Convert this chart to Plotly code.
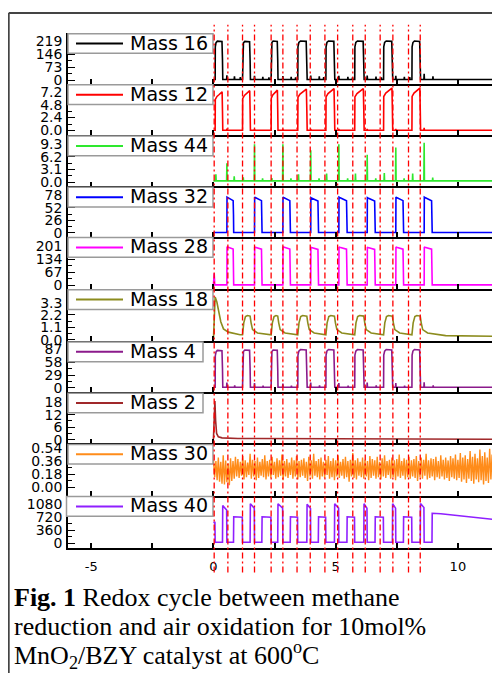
import plotly.graph_objects as go

# the page body adds an 8px margin, so the figure is drawn 8px in from the corner
OFF = 8
FIG_W, FIG_H = 500 - OFF, 674 - OFF


def px(x):
    return (x - OFF) / FIG_W


def py(y):
    return 1 - (y - OFF) / FIG_H


# ------------------------------------------------------------------ data
# switching times (h)
CH4_ON = [0.07, 1.19, 2.36, 3.45, 4.60, 5.78, 6.96, 8.12]
CH4_OFF = [0.37, 1.50, 2.63, 3.82, 4.95, 6.15, 7.32, 8.46]
AIR_ON = [0.55, 1.68, 2.84, 3.98, 5.13, 6.29, 7.46, 8.62]
AIR_OFF = [0.82, 1.98, 3.14, 4.29, 5.46, 6.61, 7.77, 8.94]
DASH_T = [0.03, 0.59, 1.19, 1.68, 2.36, 2.84, 3.42, 3.96,
          4.56, 5.08, 5.70, 6.21, 6.82, 7.34, 7.98, 8.46]
T_END = 11.7

LABELS = ["Mass 16", "Mass 12", "Mass 44", "Mass 32", "Mass 28",
          "Mass 18", "Mass 4", "Mass 2", "Mass 30", "Mass 40"]

# y tick labels of every panel
Y_TICKTEXT = [
    ["0", "73", "146", "219"],
    ["0.0", "2.4", "4.8", "7.2"],
    ["0.0", "3.1", "6.2", "9.3"],
    ["0", "26", "52", "78"],
    ["0", "67", "134", "201"],
    ["0.0", "1.1", "2.2", "3.3"],
    ["0", "29", "58", "87"],
    ["0", "6", "12", "18"],
    ["0.00", "0.18", "0.36", "0.54"],
    ["0", "360", "720", "1080"],
]
X_TICKVALS = [-5, -2.5, 0, 2.5, 5, 7.5, 10]
X_TICKTEXT = ["-5", "", "0", "", "5", "", "10"]

# Mass 16 (CH4)
M16_BASE = 4
M16_PEAK = [221, 220, 222, 222, 222, 222, 222, 222]
M16_SPIKE_AIRON = [28, 25, 24, 26, 25, 26, 25, 37]
M16_SPIKE_AIROFF = [22, 20, 20, 22, 20, 21, 20, 22]
M16_SPIKE_PRE = [18, 17, 16, 18, 17, 16, 18]
# Mass 12
M12_BASE = 0.05
M12_PEAK = [7.2, 7.4, 7.5, 7.7, 7.8, 7.8, 7.9, 7.9]
M12_SPIKE = [0.35, 0.3, 0.3, 0.3, 0.3, 0.3, 0.3, 0.5]
# Mass 44 (CO2)
M44_BASE = 0.3
M44_SPIKE_ON = [1.9, 1.2, 1.0, 1.9, 2.1, 2.1, 2.2, 2.1]
M44_SPIKE_AIRON = [4.6, 9.3, 9.3, 7.8, 9.3, 6.7, 8.5, 9.7]
M44_SPIKE_AIROFF = [1.4, 0.9, 0.9, 0.9, 0.9, 0.9, 0.9, 1.1]
# Mass 32 (O2)
M32_BASE = 0.8
M32_PEAK = [74, 74, 74, 73, 74, 73, 74, 74]
# Mass 28
M28_BASE = 3
M28_PEAK = [198, 197, 198, 196, 197, 196, 197, 197]
M28_START_SPIKE = 62
# Mass 18 (H2O)
M18_START_T = [0.0, 0.03, 0.07, 0.14, 0.20, 0.30, 0.41, 0.61, 1.09]
M18_START_V = [0.05, 2.5, 3.8, 3.35, 2.8, 1.6, 0.96, 0.67, 0.44]
M18_RISE_DT = [0.0, 0.05, 0.12, 0.2]
M18_RISE_V = [0.44, 1.5, 2.05, 2.15]
M18_FALL_DT = [0.0, 0.04, 0.1, 0.3, 0.6]
M18_FALL_V = [2.1, 1.5, 0.9, 0.6, 0.5]
M18_TAIL_T = [9.5, 11.7]
M18_TAIL_V = [0.36, 0.3]
# Mass 4
M4_BASE = 1.5
M4_PEAK = [85, 86, 86, 87, 87, 87, 87, 87]
M4_SPIKE_AIRON = [12, 11, 10, 12, 11, 12, 11, 13]
M4_SPIKE_AIROFF = [6, 5, 5, 6, 5, 6, 5, 6]
# Mass 2 (H2)
M2_T = [0.0, 0.02, 0.06, 0.09, 0.13, 0.2, 0.35, 1.0, 4.0, 8.0, 11.7]
M2_V = [0.3, 8.0, 18.5, 9.0, 3.0, 1.4, 0.9, 0.6, 0.45, 0.3, 0.25]
# Mass 30 (noisy) : alternating upper / lower excursions
M30_UPPER = [
    0.38, 0.36, 0.41, 0.35, 0.44, 0.37, 0.33, 0.40, 0.36, 0.42,
    0.39, 0.35, 0.43, 0.37, 0.34, 0.46, 0.38, 0.36, 0.41, 0.35,
    0.39, 0.44, 0.36, 0.38, 0.42, 0.35, 0.40, 0.37, 0.45, 0.36,
    0.39, 0.34, 0.41, 0.37, 0.43, 0.36, 0.38, 0.40, 0.35, 0.42,
    0.37, 0.46, 0.36, 0.39, 0.41, 0.35, 0.38, 0.43, 0.36, 0.40,
    0.37, 0.44, 0.35, 0.39, 0.42, 0.36, 0.38, 0.47, 0.37, 0.40,
    0.35, 0.41, 0.38, 0.36, 0.43, 0.39, 0.37, 0.42, 0.35, 0.40,
    0.44, 0.36, 0.38, 0.41, 0.37, 0.39, 0.45, 0.36, 0.40, 0.38,
    0.42, 0.37, 0.39, 0.43, 0.36, 0.41, 0.38, 0.46, 0.37, 0.40,
    0.39, 0.42, 0.36, 0.44, 0.38, 0.41, 0.37, 0.43, 0.40, 0.45,
    0.38, 0.47, 0.41, 0.44, 0.39, 0.50, 0.42, 0.46, 0.40, 0.52,
    0.43, 0.48, 0.41, 0.53, 0.45, 0.49,
]
M30_LOWER = [
    0.14, 0.10, 0.08, 0.05, 0.04, 0.07, 0.03, 0.09, 0.12, 0.15,
    0.13, 0.16, 0.11, 0.14, 0.17, 0.12, 0.15, 0.10, 0.13, 0.16,
    0.14, 0.11, 0.15, 0.13, 0.17, 0.12, 0.14, 0.16, 0.10, 0.15,
    0.13, 0.17, 0.12, 0.15, 0.11, 0.14, 0.16, 0.13, 0.09, 0.15,
    0.12, 0.16, 0.14, 0.11, 0.15, 0.13, 0.17, 0.12, 0.14, 0.10,
    0.15, 0.13, 0.16, 0.12, 0.14, 0.08, 0.15, 0.13, 0.11, 0.16,
    0.14, 0.12, 0.15, 0.10, 0.13, 0.16, 0.12, 0.14, 0.11, 0.15,
    0.13, 0.17, 0.12, 0.14, 0.10, 0.15, 0.13, 0.16, 0.11, 0.14,
    0.12, 0.15, 0.13, 0.09, 0.14, 0.12, 0.16, 0.11, 0.13, 0.15,
    0.10, 0.14, 0.12, 0.15, 0.11, 0.13, 0.09, 0.14, 0.12, 0.10,
    0.13, 0.08, 0.11, 0.06, 0.12, 0.09, 0.05, 0.11, 0.07, 0.10,
    0.04, 0.09, 0.06, 0.11, 0.05, 0.08,
]
M30_STEP = 0.05
# Mass 40 (Ar)
M40_START = [560, 585]
M40_LOW = 25
M40_PEAK = [1030, 1080, 1080, 1070, 1080, 1080, 1080, 1090]
M40_PEAK_END = [910, 960, 960, 950, 960, 960, 960, 980]
M40_MID = [725, 725, 725, 725, 725, 725, 725]
M40_MID_END = [712, 712, 712, 712, 712, 712, 712]
M40_TAIL_T = [9.3, 11.7]
M40_TAIL_V = [805, 635]
M40_TAIL_START = 820

# pulse shape profiles (fraction of pulse width, fraction of height)
CH4_SHAPE_F = [0.0, 0.02, 0.12, 0.3, 0.93, 1.0, 1.04]
CH4_SHAPE_L = [0.0, 0.85, 0.96, 1.0, 0.99, 0.5, 0.0]
M12_SHAPE_F = [0.0, 0.02, 0.25, 0.55, 0.85, 0.95, 1.0, 1.04]
M12_SHAPE_L = [0.0, 0.8, 0.88, 0.93, 0.98, 1.0, 0.5, 0.0]
AIR_SHAPE_F = [0.0, 0.02, 0.1, 0.95, 1.0, 1.03]
AIR_SHAPE_L = [0.0, 1.0, 0.99, 0.9, 0.5, 0.0]
AIR28_SHAPE_L = [0.0, 1.0, 0.99, 0.94, 0.5, 0.0]

COLORS = ["#000000", "#ff0000", "#2ee82e", "#0000ff", "#ff00ff",
          "#8c8c1e", "#8b1a8b", "#a0282a", "#ff8c1a", "#8f1fff"]

# ---------------------------------------------------------------- layout cfg
TOPS = [30, 82, 134, 186, 237, 290, 343, 395, 447, 500]
BOTS = [82, 134, 186, 237, 290, 343, 395, 447, 500, 553]
Y_RANGES = [[-20.6, 269], [-0.86, 8.67], [-1.04, 11.55], [-7.5, 96.3],
            [-16.6, 249.7], [-0.114, 4.53], [-9.6, 106.4], [-1.74, 22.7],
            [-0.112, 0.603], [-127, 1304]]
BOX_R = [213, 213, 213, 213, 213, 213, 203, 203, 213, 213]


# ---------------------------------------------------------------- builders
def pulse(on, off, base, peak, frac, lvl):
    w = off - on
    return [(on + f * w, base + l * (peak - base)) for f, l in zip(frac, lvl)]


def spike(t, base, h, hw=0.012):
    return [(t - hw, base), (t, h), (t + hw, base)]


def assemble(pts):
    pts = sorted(pts, key=lambda p: p[0])
    return [p[0] for p in pts], [p[1] for p in pts]


series = []

# Mass 16
pts = [(0, M16_BASE), (T_END, M16_BASE)]
for i in range(8):
    pts += pulse(CH4_ON[i], CH4_OFF[i], M16_BASE, M16_PEAK[i], CH4_SHAPE_F, CH4_SHAPE_L)
    pts += spike(AIR_ON[i], M16_BASE, M16_SPIKE_AIRON[i])
    pts += spike(AIR_OFF[i] + 0.04, M16_BASE, M16_SPIKE_AIROFF[i])
    if i < 7:
        pts += spike(CH4_ON[i + 1] - 0.09, M16_BASE, M16_SPIKE_PRE[i])
series.append(assemble(pts))

# Mass 12
pts = [(0, M12_BASE), (T_END, M12_BASE)]
for i in range(8):
    pts += pulse(CH4_ON[i], CH4_OFF[i], M12_BASE, M12_PEAK[i], M12_SHAPE_F, M12_SHAPE_L)
    pts += spike(AIR_ON[i], M12_BASE, M12_SPIKE[i])
series.append(assemble(pts))

# Mass 44
pts = [(0, M44_BASE), (T_END, M44_BASE)]
for i in range(8):
    pts += spike(CH4_ON[i] + 0.03, M44_BASE, M44_SPIKE_ON[i])
    pts += spike(AIR_ON[i], M44_BASE, M44_SPIKE_AIRON[i])
    pts += spike(AIR_OFF[i] + 0.03, M44_BASE, M44_SPIKE_AIROFF[i])
series.append(assemble(pts))

# Mass 32
pts = [(0, M32_BASE), (T_END, M32_BASE)]
for i in range(8):
    pts += pulse(AIR_ON[i], AIR_OFF[i], M32_BASE, M32_PEAK[i], AIR_SHAPE_F, AIR_SHAPE_L)
series.append(assemble(pts))

# Mass 28
pts = [(0, M28_BASE), (T_END, M28_BASE)]
pts += spike(0.03, M28_BASE, M28_START_SPIKE, hw=0.025)
for i in range(8):
    pts += pulse(AIR_ON[i], AIR_OFF[i], M28_BASE, M28_PEAK[i], AIR_SHAPE_F, AIR28_SHAPE_L)
series.append(assemble(pts))

# Mass 18
pts = list(zip(M18_START_T, M18_START_V))
for i in range(1, 8):
    pts += [(CH4_ON[i] + d, v) for d, v in zip(M18_RISE_DT, M18_RISE_V)]
    pts += [(CH4_OFF[i] + d, v) for d, v in zip(M18_FALL_DT, M18_FALL_V)]
pts += list(zip(M18_TAIL_T, M18_TAIL_V))
series.append(assemble(pts))

# Mass 4
pts = [(0, M4_BASE), (T_END, M4_BASE)]
for i in range(8):
    pts += pulse(CH4_ON[i], CH4_OFF[i], M4_BASE, M4_PEAK[i], CH4_SHAPE_F, CH4_SHAPE_L)
    pts += spike(AIR_ON[i], M4_BASE, M4_SPIKE_AIRON[i])
    pts += spike(AIR_OFF[i] + 0.05, M4_BASE, M4_SPIKE_AIROFF[i])
series.append(assemble(pts))

# Mass 2
series.append((M2_T, M2_V))

# Mass 30
x30, y30 = [], []
for k in range(len(M30_UPPER)):
    x30 += [2 * k * M30_STEP, (2 * k + 1) * M30_STEP]
    y30 += [M30_UPPER[k], M30_LOWER[k]]
series.append((x30, y30))

# Mass 40
pts = [(0.0, M40_START[0]), (0.06, M40_START[1]), (CH4_ON[0], M40_LOW)]
for i in range(8):
    pts += [(CH4_OFF[i], M40_LOW), (CH4_OFF[i] + 0.01, M40_PEAK[i]),
            (AIR_ON[i] - 0.01, M40_PEAK_END[i]), (AIR_ON[i], M40_LOW),
            (AIR_OFF[i], M40_LOW)]
    if i < 7:
        pts += [(AIR_OFF[i] + 0.01, M40_MID[i]),
                (CH4_ON[i + 1] - 0.01, M40_MID_END[i]),
                (CH4_ON[i + 1], M40_LOW)]
pts += [(AIR_OFF[7] + 0.01, M40_TAIL_START)]
pts += list(zip(M40_TAIL_T, M40_TAIL_V))
series.append(assemble(pts))

# ---------------------------------------------------------------- figure
fig = go.Figure()
layout = dict(width=FIG_W, height=FIG_H, margin=dict(l=0, r=0, t=0, b=0),
              paper_bgcolor="white", plot_bgcolor="white", showlegend=False)

tickfont = dict(family="DejaVu Sans", size=14, color="black")
shapes, annos = [], []

for i in range(10):
    n = i + 1
    xs, ys = series[i]
    fig.add_trace(go.Scatter(
        x=xs, y=ys, mode="lines", xaxis=f"x{n}", yaxis=f"y{n}",
        line=dict(color=COLORS[i], width=1.4 if i == 8 else 1.6)))

    tv = [float(t) for t in Y_TICKTEXT[i]]
    step = tv[1] - tv[0]
    minor_v = [tv[0] + step * 0.5, tv[1] + step * 0.5, tv[2] + step * 0.5]
    xa = dict(domain=[px(68), px(497)], range=[-5.95, 11.6], anchor=f"y{n}",
              showline=True, linecolor="black", linewidth=1.5,
              ticks="inside", ticklen=5, tickwidth=1.5, tickcolor="black",
              tickmode="array", tickvals=X_TICKVALS, ticktext=X_TICKTEXT,
              showticklabels=(i == 9), showgrid=False, zeroline=False,
              ticklabelstandoff=6,
              tickfont=dict(family="DejaVu Sans", size=13, color="black"))
    ya = dict(domain=[py(BOTS[i]), py(TOPS[i])], range=Y_RANGES[i],
              anchor=f"x{n}", showline=True, linecolor="black", linewidth=1.5,
              ticks="inside", ticklen=7, tickwidth=1.3, tickcolor="black",
              tickmode="array", tickvals=tv, ticktext=Y_TICKTEXT[i],
              minor=dict(tickmode="array", tickvals=minor_v, ticks="inside",
                         ticklen=4, tickwidth=1.2, tickcolor="black"),
              tickfont=tickfont, showgrid=False, zeroline=False,
              ticklabelstandoff=1)
    layout["xaxis" if n == 1 else f"xaxis{n}"] = xa
    layout["yaxis" if n == 1 else f"yaxis{n}"] = ya

    # legend box
    bt, bb = TOPS[i] + 1, TOPS[i] + 21
    bl = 66.5 if i == 9 else 68
    shapes.append(dict(type="rect", xref="paper", yref="paper",
                       x0=px(bl), x1=px(BOX_R[i]), y0=py(bb), y1=py(bt),
                       fillcolor="white", line=dict(color="#9a9a9a", width=1.5),
                       layer="above"))
    cy = (bt + bb) / 2
    shapes.append(dict(type="line", xref="paper", yref="paper",
                       x0=px(76), x1=px(123), y0=py(cy), y1=py(cy),
                       line=dict(color=COLORS[i], width=2), layer="above"))
    annos.append(dict(text=LABELS[i], xref="paper", yref="paper",
                      x=px(128), y=py(cy - 1), xanchor="left", yanchor="middle",
                      showarrow=False,
                      font=dict(family="DejaVu Sans", size=19, color="black")))

# red dash-dot markers of the switching times
for t in DASH_T:
    shapes.append(dict(type="line", xref="x", yref="paper", x0=t, x1=t,
                       y0=py(578), y1=py(22),
                       line=dict(color="red", width=1.3, dash="6px,3px,2px,3px"),
                       layer="above"))

# page frame
shapes.append(dict(type="line", xref="paper", yref="paper", x0=px(8.7), x1=px(8.7),
                   y0=py(10), y1=py(680), line=dict(color="#444", width=2)))
shapes.append(dict(type="line", xref="paper", yref="paper", x0=px(8.7), x1=px(505),
                   y0=py(10), y1=py(10), line=dict(color="#444", width=2)))

# caption
CAPTION = ["<b>Fig. 1</b> Redox cycle between methane",
           "reduction and air oxidation for 10mol%",
           "MnO<sub>2</sub>/BZY catalyst at 600<sup>o</sup>C"]
for k, line in enumerate(CAPTION):
    annos.append(dict(text=line, xref="paper", yref="paper", x=px(12),
                      y=py(603 + 29.5 * k), xanchor="left", yanchor="middle",
                      showarrow=False,
                      font=dict(family="Liberation Serif", size=26, color="black")))

layout["shapes"] = shapes
layout["annotations"] = annos
fig.update_layout(**layout)
fig.write_html("out.html")
